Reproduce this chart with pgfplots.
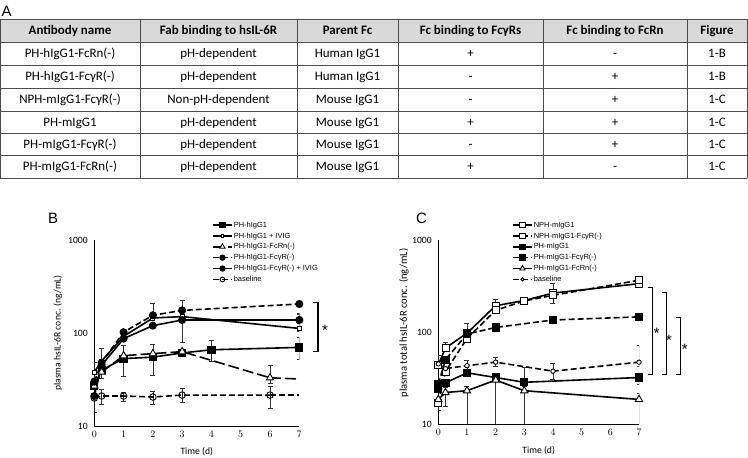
\documentclass[border=0pt]{standalone}
\usepackage{pgfplots}
\pgfplotsset{compat=1.18}
\usepackage{fontspec}
\setmainfont{Carlito}
\newfontfamily\arialf{Liberation Sans}
\pgfplotsset{
  sol/.style={solid},
  dsh/.style={dash pattern=on 6bp off 3bp},
  ldsh/.style={dash pattern=on 11bp off 4bp},
  fsq/.style={mark=square*, mark size=3.3bp, mark options={solid, fill=black}},
  osq/.style={mark=square*, mark size=2bp, mark options={solid, fill=white, line width=0.9bp}},
  bosq/.style={mark=square*, mark size=3.5bp, mark options={solid, fill=white, line width=0.9bp}},
  otri/.style={mark=triangle*, mark size=4.2bp, mark options={solid, fill=white, line width=0.9bp}},
  fcirc/.style={mark=*, mark size=3.2bp, mark options={solid, fill=black}},
  ocirc/.style={mark=o, mark size=3.3bp, mark options={solid, line width=0.9bp}},
  socirc/.style={mark=*, mark size=2.2bp, mark options={solid, fill=white, line width=0.9bp}},
  ebar/.style={forget plot, draw=none, mark=none,
    /pgfplots/error bars/y dir=both, /pgfplots/error bars/y explicit,
    /pgfplots/error bars/error bar style={draw=black!80, line width=0.6bp, solid},
    /pgfplots/error bars/error mark options={draw=black!80, rotate=90, mark size=2.5bp, line width=0.6bp, solid}},
}
\begin{document}
\begin{tikzpicture}[x=1bp,y=1bp]
\path[use as bounding box] (0,0) rectangle (748,458);
% ---------- table ----------
\fill[black!15] (0.5,439) rectangle (747,416);
\foreach \yy in {439,416,393,370,347,325,303,280} {\draw[black!70, line width=0.8bp] (0.5,\yy) -- (747,\yy);}
\foreach \xx in {0.5,140,297,398,543,687,747} {\draw[black!70, line width=0.8bp] (\xx,439) -- (\xx,280);}
\tikzset{cell/.style={anchor=base, inner sep=0pt, font=\fontsize{13}{15}\selectfont},
  hcell/.style={anchor=base, inner sep=0pt, font=\bfseries\fontsize{13}{15}\selectfont}}
\foreach \yc/\a/\b/\c/\d/\e/\f in {
  404.5/PH-hIgG1-FcRn(-)/pH-dependent/Human IgG1/+/-/1-B,
  381.5/PH-hIgG1-FcγR(-)/pH-dependent/Human IgG1/-/+/1-B,
  358.5/NPH-mIgG1-FcγR(-)/Non-pH-dependent/Mouse IgG1/-/+/1-C,
  336/PH-mIgG1/pH-dependent/Mouse IgG1/+/+/1-C,
  314/PH-mIgG1-FcγR(-)/pH-dependent/Mouse IgG1/-/+/1-C,
  291.5/PH-mIgG1-FcRn(-)/pH-dependent/Mouse IgG1/+/-/1-C} {
  \node[cell] at (70,\yc-4.3) {\a};
  \node[cell] at (218.5,\yc-4.3) {\b};
  \node[cell] at (347.5,\yc-4.3) {\c};
  \node[cell] at (470.5,\yc-4.3) {\d};
  \node[cell] at (615,\yc-4.3) {\e};
  \node[cell] at (717,\yc-4.3) {\f};
}
\node[hcell] at (70,423.2) {Antibody name};
\node[hcell] at (218.5,423.2) {Fab binding to hsIL-6R};
\node[hcell] at (347.5,423.2) {Parent Fc};
\node[hcell] at (470.5,423.2) {Fc binding to FcγRs};
\node[hcell] at (615,423.2) {Fc binding to FcRn};
\node[hcell] at (717,423.2) {Figure};
% panel letters
\node[anchor=base west, inner sep=0pt, font=\arialf\fontsize{15}{15}\selectfont] at (1.5,441) {A};
\node[anchor=base west, inner sep=0pt, font=\arialf\fontsize{15}{15}\selectfont] at (48,234) {B};
\node[anchor=base west, inner sep=0pt, font=\arialf\fontsize{15}{15}\selectfont] at (416,234) {C};

% ---------- panel B ----------
\begin{axis}[scale only axis, ymode=log, xmin=0, xmax=7, ymin=10, ymax=1000,
    axis x line*=bottom, axis y line*=left, axis line style={-, line width=0.9bp, black},
    xtick={0,1,2,3,4,5,6,7}, ytick={10,100,1000}, yticklabels={10,100,1000},
    major tick length=0pt, minor tick length=0pt,
    tick label style={font=\fontsize{9.7}{12}\selectfont},
    yticklabel style={xshift=-3bp}, xticklabel style={yshift=-2bp},
    legend cell align=left,
    legend style={draw=none, fill=none, font=\arialf\fontsize{7.5}{9}\selectfont, anchor=north west,
      inner sep=0pt, row sep=1.3bp, nodes={inner sep=1pt, text height=6bp, text depth=1.6bp}},
    legend image code/.code={\draw[mark repeat=2,mark phase=2, every mark/.append style={scale=0.72}] plot coordinates {(0bp,0bp) (9.5bp,0bp) (19bp,0bp)};},
    every axis plot/.append style={line width=1.6bp, black},
  at={(94.3bp,32bp)}, anchor=south west, width=205bp, height=186bp,
  xlabel={Time (d)}, ylabel={plasma hsIL-6R conc. (ng/mL)},
  xlabel style={font=\fontsize{9.7}{11}\selectfont, at={(axis description cs:0.5,-0.14)}, anchor=center},
  ylabel style={font=\fontsize{9.7}{11}\selectfont, at={(axis description cs:-0.177,0.5)}, anchor=center},
  legend style={at={(axis description cs:0.574,1.1075)}}]
% error bars
\addplot[ebar] table[x=x,y=y,y error plus=ep,y error minus=em] {
x y ep em
1 53 21 19
2 55 21 20
4 66 18 16
7 70 19 17.5
};
\addplot[ebar] table[x=x,y=y,y error plus=ep,y error minus=em] {
x y ep em
0 38 10 5
0.25 50 18 6
7 112 46 8
};
\addplot[ebar] table[x=x,y=y,y error plus=ep,y error minus=em] {
x y ep em
0.25 38 5 5.4
6 33 12 4
};
\addplot[ebar] table[x=x,y=y,y error plus=ep,y error minus=em] {
x y ep em
2 155 54 10
3 175 51 10
};
\addplot[ebar] table[x=x,y=y,y error plus=ep,y error minus=em] {
x y ep em
3 138 10 58
7 138 25 10
};
\addplot[ebar] table[x=x,y=y,y error plus=ep,y error minus=em] {
x y ep em
0 20 6 6
0.25 21 4 4
1 21 2 2.5
2 20.5 3 3.5
3 21.5 4 3.5
6 21.5 5 6
};
% line tails without markers (last point at day 7)
\addplot[ldsh, mark=none, forget plot] table {
6 33
7 32
};
\addplot[dsh, mark=none, forget plot] table {
6 21.5
7 21.5
};
% series
\addplot[sol, fsq] table {
0 27
0.25 40
1 53
2 55
3 61
4 66
7 70
};
\addlegendentry{PH-hIgG1}
\addplot[sol, osq] table {
0 38
0.25 50
1 92
2 145
3 150
7 112
};
\addlegendentry{PH-hIgG1 + IVIG}
\addplot[ldsh, otri] table {
0 27
0.25 38
1 57
2 60
3 63
6 33
};
\addlegendentry{PH-hIgG1-FcRn(-)}
\addplot[dsh, fcirc] table {
0 30
0.25 48
1 102
2 155
3 175
7 205
};
\addlegendentry{PH-hIgG1-FcγR(-)}
\addplot[sol, fcirc] table {
0 21
0.25 45
1 87
2 120
3 138
7 138
};
\addlegendentry{PH-hIgG1-FcγR(-) + IVIG}
\addplot[dsh, ocirc] table {
0 20
0.25 21
1 21
2 20.5
3 21.5
6 21.5
};
\addlegendentry{baseline}
\end{axis}

% ---------- panel C ----------
\begin{axis}[scale only axis, ymode=log, xmin=0, xmax=7, ymin=10, ymax=1000,
    axis x line*=bottom, axis y line*=left, axis line style={-, line width=0.9bp, black},
    xtick={0,1,2,3,4,5,6,7}, ytick={10,100,1000}, yticklabels={10,100,1000},
    major tick length=0pt, minor tick length=0pt,
    tick label style={font=\fontsize{9.7}{12}\selectfont},
    yticklabel style={xshift=-3bp}, xticklabel style={yshift=-2bp},
    legend cell align=left,
    legend style={draw=none, fill=none, font=\arialf\fontsize{7.5}{9}\selectfont, anchor=north west,
      inner sep=0pt, row sep=1.3bp, nodes={inner sep=1pt, text height=6bp, text depth=1.6bp}},
    legend image code/.code={\draw[mark repeat=2,mark phase=2, every mark/.append style={scale=0.72}] plot coordinates {(0bp,0bp) (9.5bp,0bp) (19bp,0bp)};},
    every axis plot/.append style={line width=1.6bp, black},
  at={(438.3bp,34bp)}, anchor=south west, width=200.7bp, height=184bp,
  xlabel={Time (d)}, ylabel={plasma total hsIL-6R conc. (ng/mL)},
  xlabel style={font=\fontsize{9.7}{11}\selectfont, at={(axis description cs:0.5,-0.147)}, anchor=center},
  ylabel style={font=\fontsize{10.6}{12}\selectfont, at={(axis description cs:-0.171,0.549)}, anchor=center},
  legend style={at={(axis description cs:0.367,1.109)}}]
\addplot[ebar] table[x=x,y=y,y error plus=ep,y error minus=em] {
x y ep em
0 44 12 4
0.25 67 11 5
1 97 27 8
2 193 35 10
4 265 74 10
};
\addplot[ebar] table[x=x,y=y,y error plus=ep,y error minus=em] {
x y ep em
0 17 2 3
4 250 10 45
};
\addplot[ebar] table[x=x,y=y,y error plus=ep,y error minus=em] {
x y ep em
3 28.4 12.6 3
7 32 4 5
};
\addplot[ebar] table[x=x,y=y,y error plus=ep,y error minus=em] {
x y ep em
2 112 8 10
};
\addplot[ebar] table[x=x,y=y,y error plus=ep,y error minus=em] {
x y ep em
0.25 22 3 6.6
1 23 3 22.9
2 30 3 29.9
3 23 3 22.9
7 18.5 3 18.4
};
\addplot[ebar] table[x=x,y=y,y error plus=ep,y error minus=em] {
x y ep em
1 43 6 4
2 47 6 5
4 37.5 8.5 7
7 47 24 5
};
\addplot[sol, bosq] table {
0 44
0.25 67
1 97
2 193
3 220
4 265
7 335
};
\addlegendentry{NPH-mIgG1}
\addplot[dsh, bosq] table {
0 17
0.25 37
1 85
2 172
3 218
4 250
7 365
};
\addlegendentry{NPH-mIgG1-FcγR(-)}
\addplot[sol, fsq] table {
0 24
0.25 28
1 36
2 32
3 28.4
7 32
};
\addlegendentry{PH-mIgG1}
\addplot[dsh, fsq] table {
0 27
0.25 50
1 95
2 112
4 135
7 146
};
\addlegendentry{PH-mIgG1-FcγR(-)}
\addplot[sol, otri] table {
0 18.5
0.25 22
1 23
2 30
3 23
7 18.5
};
\addlegendentry{PH-mIgG1-FcRn(-)}
\addplot[dsh, socirc] table {
0 45
0.25 40
1 43
2 47
4 37.5
7 47
};
\addlegendentry{baseline}
\end{axis}

% ---------- significance brackets ----------
\draw[line width=1.4bp] (313,155.3) -- (318,155.3) -- (318,106.3) -- (313,106.3);
\draw[line width=1.4bp] (648,170.7) -- (652.3,170.7) -- (652.3,83.7) -- (648,83.7);
\draw[line width=1.4bp] (662,165.3) -- (666.7,165.3) -- (666.7,83.7) -- (662,83.7);
\draw[line width=1.4bp] (676,140.3) -- (680.7,140.3) -- (680.7,83.7) -- (676,83.7);
\tikzset{ast/.style={inner sep=0pt, font=\arialf\fontsize{15}{15}\selectfont, yshift=-3.5bp}}
\node[ast] at (325,131.3) {*};
\node[ast] at (656.7,128) {*};
\node[ast] at (669,121.3) {*};
\node[ast] at (684.7,112) {*};
\end{tikzpicture}
\end{document}
